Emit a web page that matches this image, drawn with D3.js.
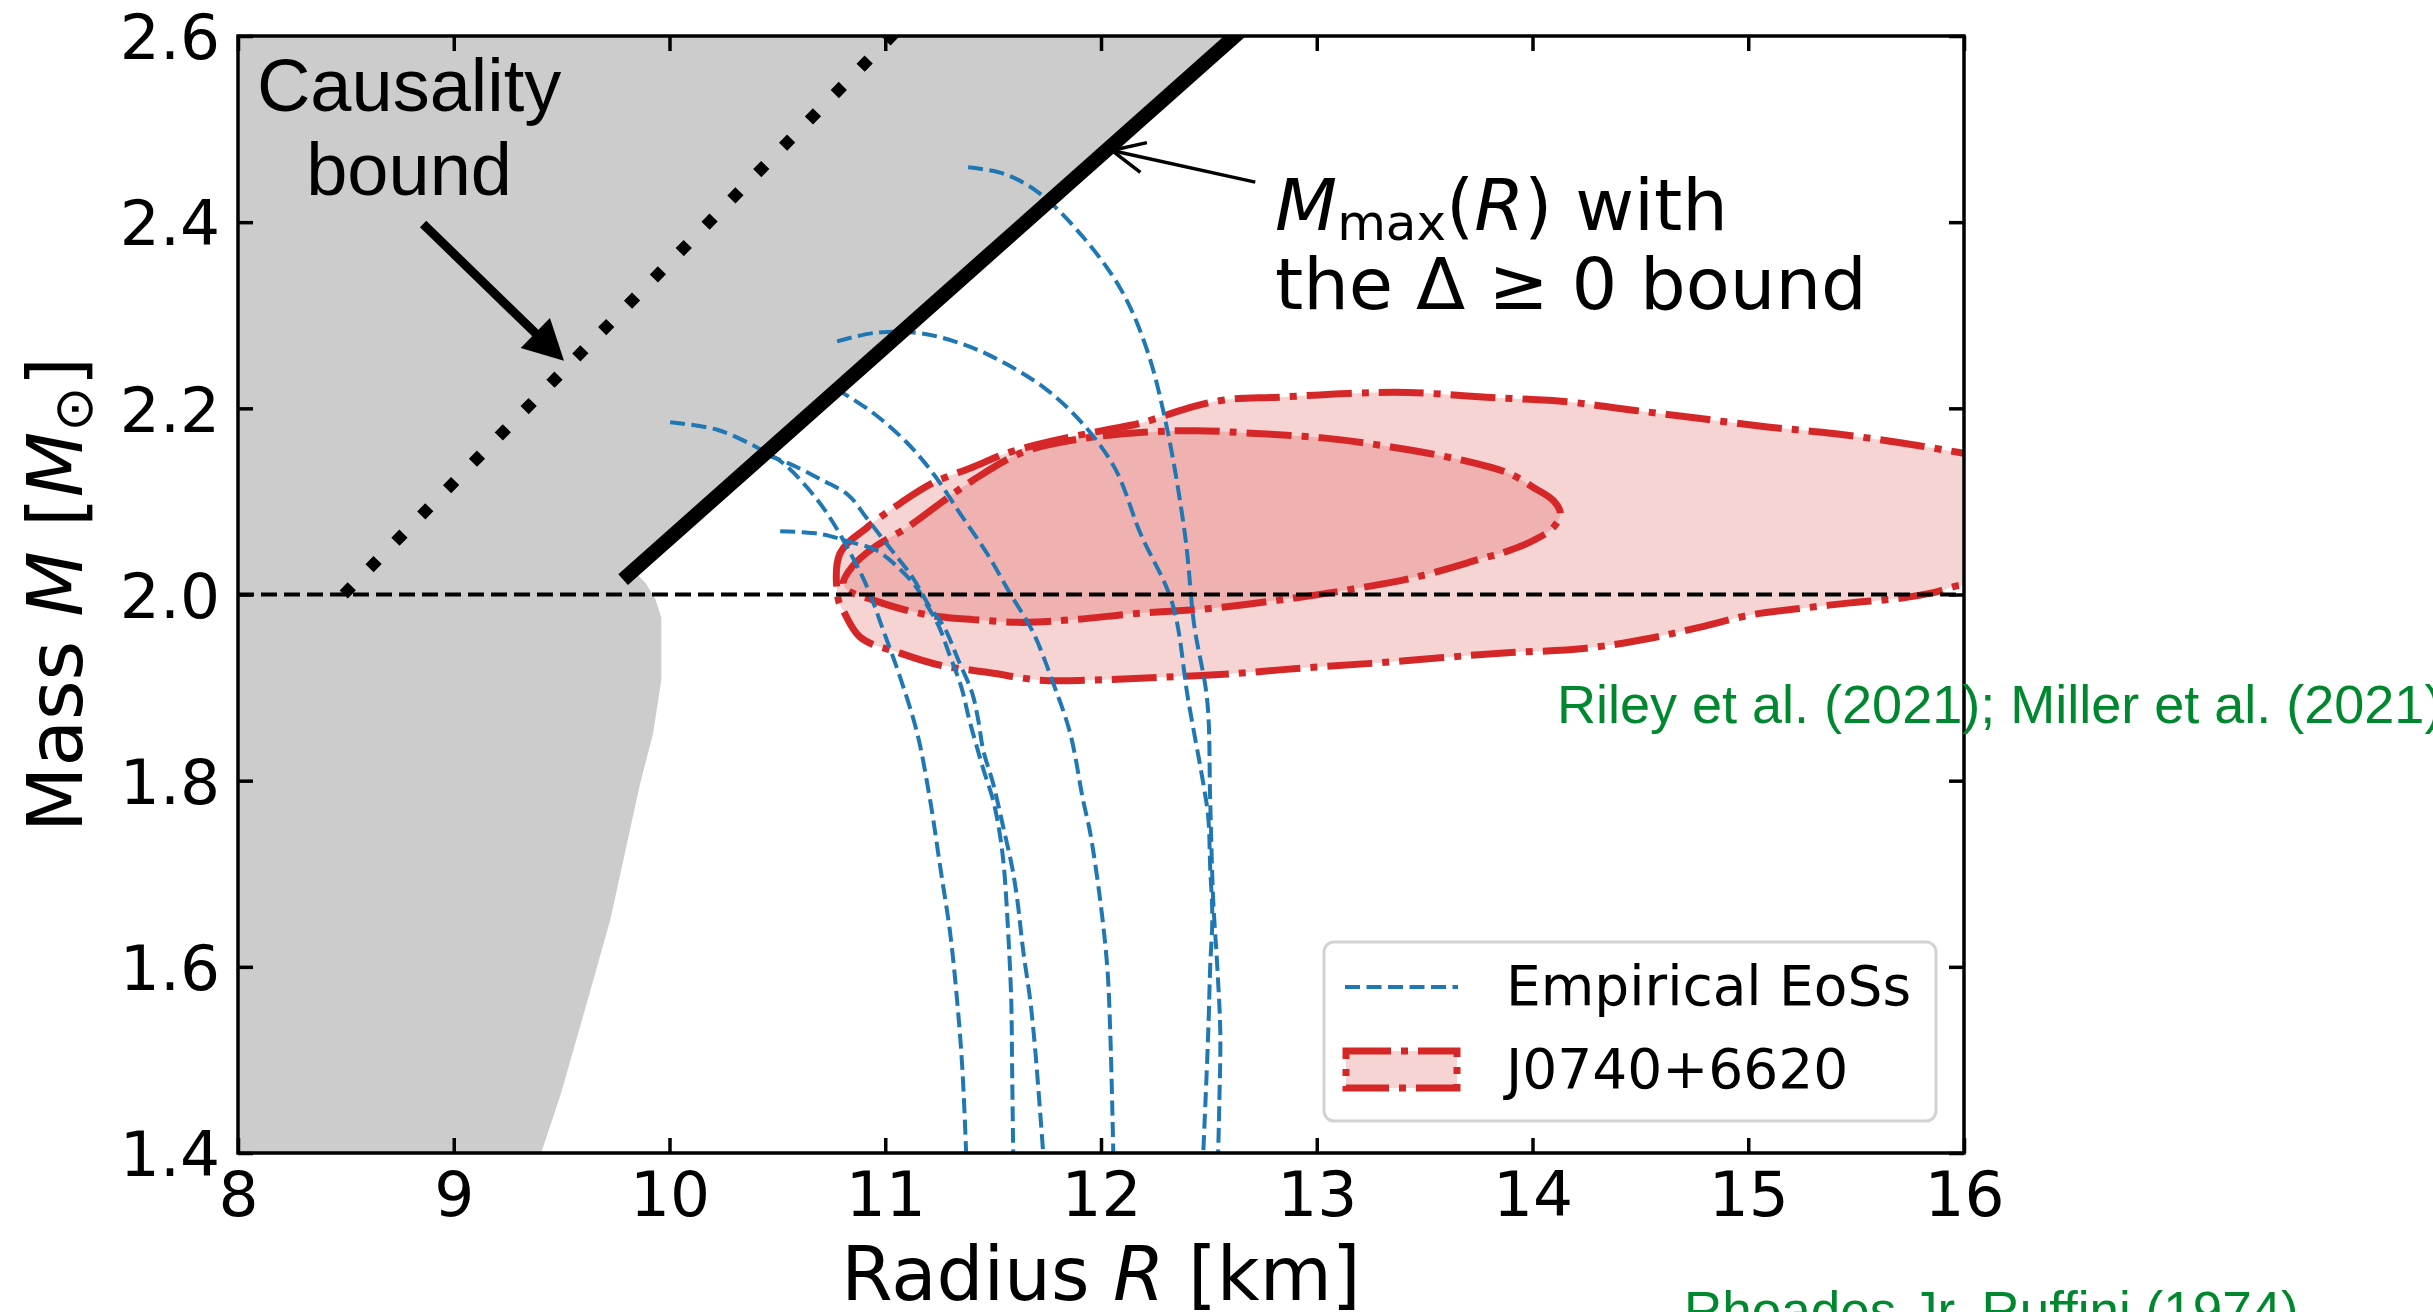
<!DOCTYPE html>
<html>
<head>
<meta charset="utf-8">
<script src="https://cdn.jsdelivr.net/npm/d3@7"></script>
<style>
  html, body { margin: 0; padding: 0; background: #fff; }
  svg { display: block; }
</style>
</head>
<body>
<svg id="chart" width="2433" height="1312"></svg>
<script>
// ---- axis ticks ----
const xTicks = [8, 9, 10, 11, 12, 13, 14, 15, 16];
const yTicks = [1.4, 1.6, 1.8, 2.0, 2.2, 2.4, 2.6];

// ---- mass-radius curves of empirical EoSs, [R (km), M (Msun)] ----
const eosA = [[11.384,2.459],[11.55,2.452],[11.709,2.432],[11.917,2.384],[12.094,2.327],[12.21,2.265],[12.302,2.183],[12.39,2.063],[12.432,1.967],[12.492,1.887],[12.506,1.779],[12.52,1.672],[12.539,1.6],[12.553,1.529],[12.548,1.45],[12.543,1.40]];
const eosB = [[10.777,2.272],[10.95,2.281],[11.148,2.281],[11.32,2.272],[11.5,2.255],[11.737,2.222],[11.917,2.183],[12.066,2.135],[12.182,2.066],[12.33,1.991],[12.404,1.887],[12.474,1.797],[12.497,1.761],[12.506,1.707],[12.516,1.653],[12.506,1.6],[12.497,1.529],[12.474,1.40]];
const eosC = [[10.003,2.185],[10.221,2.177],[10.406,2.158],[10.527,2.141],[10.638,2.115],[10.731,2.087],[10.823,2.051],[10.916,2.008],[10.99,1.962],[11.069,1.911],[11.148,1.851],[11.208,1.779],[11.255,1.707],[11.301,1.636],[11.333,1.564],[11.357,1.492],[11.375,1.40]];
const eosD = [[10.772,2.221],[10.944,2.195],[11.101,2.163],[11.222,2.13],[11.347,2.087],[11.472,2.044],[11.579,2.001],[11.686,1.959],[11.778,1.905],[11.857,1.851],[11.917,1.779],[11.95,1.744],[11.996,1.672],[12.029,1.6],[12.043,1.529],[12.057,1.40]];
const eosE = [[10.45,2.15],[10.56,2.14],[10.698,2.124],[10.828,2.107],[10.911,2.083],[11.018,2.051],[11.125,2.019],[11.208,1.986],[11.273,1.965],[11.338,1.93],[11.403,1.894],[11.431,1.865],[11.454,1.833],[11.5,1.797],[11.547,1.75],[11.588,1.707],[11.612,1.672],[11.639,1.618],[11.672,1.564],[11.695,1.511],[11.732,1.40]];
const eosF = [[10.513,2.068],[10.666,2.066],[10.74,2.063],[10.828,2.057],[10.953,2.048],[11.06,2.029],[11.143,2.008],[11.2,1.986],[11.25,1.965],[11.295,1.937],[11.352,1.901],[11.39,1.865],[11.42,1.84],[11.455,1.812],[11.5,1.779],[11.53,1.744],[11.55,1.707],[11.57,1.636],[11.584,1.564],[11.588,1.492],[11.593,1.40]];
const eosCurves = [eosA, eosB, eosC, eosD, eosE, eosF];

// ---- J0740+6620 credible regions ----
const j0740Outer = [[10.782,1.995],[10.79,2.044],[10.916,2.072],[11.069,2.098],[11.222,2.12],[11.408,2.137],[11.565,2.152],[11.797,2.166],[12.029,2.177],[12.182,2.184],[12.4,2.2],[12.571,2.209],[12.826,2.212],[13.146,2.216],[13.424,2.217],[13.786,2.212],[14.161,2.207],[14.467,2.198],[14.778,2.189],[15.089,2.18],[15.395,2.173],[15.705,2.163],[15.993,2.152],[16.1,2.148],[16.15,2.08],[16.1,2.006],[15.993,2.01],[15.858,2.002],[15.705,1.996],[15.473,1.991],[15.242,1.985],[15.01,1.978],[14.778,1.965],[14.546,1.953],[14.236,1.942],[13.851,1.937],[13.573,1.932],[13.253,1.926],[12.933,1.921],[12.613,1.915],[12.182,1.91],[11.95,1.908],[11.718,1.908],[11.486,1.916],[11.255,1.924],[11.069,1.937],[10.884,1.954],[10.805,1.983]];
const j0740Inner = [[10.805,2.012],[10.847,2.03],[10.944,2.05],[11.101,2.072],[11.255,2.098],[11.408,2.123],[11.639,2.153],[11.871,2.166],[12.182,2.174],[12.441,2.176],[12.72,2.173],[13.039,2.168],[13.359,2.158],[13.679,2.144],[13.892,2.13],[14.004,2.115],[14.096,2.101],[14.129,2.087],[14.096,2.072],[14.004,2.058],[13.851,2.044],[13.786,2.04],[13.466,2.019],[13.146,2.005],[12.826,1.994],[12.506,1.985],[12.182,1.98],[11.871,1.973],[11.639,1.97],[11.408,1.973],[11.255,1.976],[11.101,1.983],[10.944,1.994],[10.823,2.005]];

// ---- bounds ----
const causalityRegion = [[8,2.6],[12.65,2.6],[9.785,2.016],[9.84,2.024],[9.89,2.012],[9.935,1.995],[9.962,1.975],[9.962,1.908],[9.924,1.851],[9.864,1.797],[9.725,1.65],[9.618,1.562],[9.497,1.464],[9.405,1.40],[8,1.40]];
const deltaBoundLine = [[9.785,2.016],[12.67,2.61]];
const causalityLine = [[8.49,2.0],[11.06,2.607]];
const twoSolarMass = [[8,2.0],[16,2.0]];

// ---- layout ----
const W = 2433, H = 1312;
const plot = { left: 238, right: 1964, top: 36, bottom: 1153 };
const RED = "#d62728", BLUE = "#1f77b4", GREEN = "#00882e";
const SANS = "'DejaVu Sans', sans-serif";
const ARIAL = "'Liberation Sans', Arial, sans-serif";

const x = d3.scaleLinear().domain([8, 16]).range([plot.left, plot.right]);
const y = d3.scaleLinear().domain([1.4, 2.6]).range([plot.bottom, plot.top]);

const svg = d3.select("#chart");
svg.append("rect").attr("width", W).attr("height", H).attr("fill", "#fff");

svg.append("defs").append("clipPath").attr("id", "plotClip")
  .append("rect")
  .attr("x", plot.left).attr("y", plot.top)
  .attr("width", plot.right - plot.left).attr("height", plot.bottom - plot.top);

const g = svg.append("g").attr("clip-path", "url(#plotClip)");

const straight = d3.line().x(d => x(d[0])).y(d => y(d[1]));
const polygon = d3.line().x(d => x(d[0])).y(d => y(d[1])).curve(d3.curveLinearClosed);
const smooth = d3.line().x(d => x(d[0])).y(d => y(d[1])).curve(d3.curveCatmullRom.alpha(0.5));
const smoothClosed = d3.line().x(d => x(d[0])).y(d => y(d[1])).curve(d3.curveCatmullRomClosed.alpha(0.5));

// excluded region (causality)
g.append("path").attr("d", polygon(causalityRegion)).attr("fill", "#cccccc");

// J0740+6620 regions
[j0740Outer, j0740Inner].forEach(c => {
  g.append("path").attr("d", smoothClosed(c))
    .attr("fill", RED).attr("fill-opacity", 0.2).attr("stroke", "none");
});
[j0740Outer, j0740Inner].forEach(c => {
  g.append("path").attr("d", smoothClosed(c))
    .attr("fill", "none").attr("stroke", RED).attr("stroke-width", 7)
    .attr("stroke-dasharray", "45,10,7,10");
});

// empirical EoS curves
eosCurves.forEach(c => {
  g.append("path").attr("d", smooth(c))
    .attr("fill", "none").attr("stroke", BLUE).attr("stroke-width", 4)
    .attr("stroke-dasharray", "15,6.5");
});

// M = 2 Msun reference
g.append("path").attr("d", straight(twoSolarMass))
  .attr("fill", "none").attr("stroke", "#000").attr("stroke-width", 4)
  .attr("stroke-dasharray", "16,7");

// Mmax(R) with the Delta >= 0 bound
g.append("path").attr("d", straight(deltaBoundLine))
  .attr("fill", "none").attr("stroke", "#000").attr("stroke-width", 14.5)
  .attr("stroke-linecap", "butt");

// causality limit (dotted)
g.append("path").attr("d", straight(causalityLine))
  .attr("fill", "none").attr("stroke", "#000").attr("stroke-width", 11.5)
  .attr("stroke-linecap", "butt").attr("stroke-dasharray", "11.5,25.4");

// ---- axes ----
svg.append("rect")
  .attr("x", plot.left).attr("y", plot.top)
  .attr("width", plot.right - plot.left).attr("height", plot.bottom - plot.top)
  .attr("fill", "none").attr("stroke", "#000").attr("stroke-width", 3.5);

function styleAxis(sel) {
  sel.select(".domain").remove();
  sel.attr("font-family", SANS).attr("font-size", 63);
  sel.selectAll(".tick line").attr("stroke", "#000").attr("stroke-width", 3.5);
  sel.selectAll(".tick text").attr("fill", "#000");
}

const gx = svg.append("g").attr("transform", `translate(0,${plot.bottom})`)
  .call(d3.axisBottom(x).tickValues(xTicks).tickFormat(d3.format("d"))
    .tickSizeInner(-15).tickSizeOuter(0).tickPadding(18));
styleAxis(gx);

const gy = svg.append("g").attr("transform", `translate(${plot.left},0)`)
  .call(d3.axisLeft(y).tickValues(yTicks).tickFormat(d3.format(".1f"))
    .tickSizeInner(-15).tickSizeOuter(0).tickPadding(18));
styleAxis(gy);
gy.selectAll(".tick text").attr("dy", "0.36em");

const gxt = svg.append("g").attr("transform", `translate(0,${plot.top})`)
  .call(d3.axisTop(x).tickValues(xTicks).tickFormat("").tickSizeInner(-15).tickSizeOuter(0));
styleAxis(gxt);

const gyr = svg.append("g").attr("transform", `translate(${plot.right},0)`)
  .call(d3.axisRight(y).tickValues(yTicks).tickFormat("").tickSizeInner(-15).tickSizeOuter(0));
styleAxis(gyr);

// axis titles
const xl = svg.append("text")
  .attr("x", (plot.left + plot.right) / 2).attr("y", 1300)
  .attr("text-anchor", "middle").attr("font-family", SANS).attr("font-size", 74).attr("fill", "#000");
xl.append("tspan").text("Radius ");
xl.append("tspan").attr("font-style", "italic").text("R");
xl.append("tspan").text(" [km]");

const yl = svg.append("text")
  .attr("transform", `translate(82,${(plot.top + plot.bottom) / 2}) rotate(-90)`)
  .attr("text-anchor", "middle").attr("font-family", SANS).attr("font-size", 76).attr("fill", "#000");
yl.append("tspan").text("Mass ");
yl.append("tspan").attr("font-style", "italic").text("M");
yl.append("tspan").text(" [");
yl.append("tspan").attr("font-style", "italic").text("M");
yl.append("tspan").attr("font-size", 54).attr("dy", 10).text("\u2299");
yl.append("tspan").attr("dy", -10).text("]");

// ---- annotations ----
const causalityText = svg.append("text")
  .attr("text-anchor", "middle").attr("font-family", ARIAL).attr("font-size", 74).attr("fill", "#000");
causalityText.append("tspan").attr("x", x(8.793)).attr("y", y(2.519)).text("Causality");
causalityText.append("tspan").attr("x", x(8.793)).attr("y", y(2.429)).text("bound");

// filled arrow to the causality line
(function () {
  const p0 = [x(8.858), y(2.398)], p1 = [x(9.511), y(2.251)];
  const dx = p1[0] - p0[0], dy = p1[1] - p0[1], L = Math.hypot(dx, dy);
  const ux = dx / L, uy = dy / L, nx = -uy, ny = ux;
  const hl = 40, hw = 21;
  const b = [p1[0] - hl * ux, p1[1] - hl * uy];
  svg.append("line").attr("x1", p0[0]).attr("y1", p0[1]).attr("x2", b[0] + 2 * ux).attr("y2", b[1] + 2 * uy)
    .attr("stroke", "#000").attr("stroke-width", 9);
  svg.append("path")
    .attr("d", `M${p1[0]},${p1[1]}L${b[0] + hw * nx},${b[1] + hw * ny}L${b[0] - hw * nx},${b[1] - hw * ny}Z`)
    .attr("fill", "#000");
})();

// open arrow to the Mmax(R) line
(function () {
  const p0 = [x(12.715), y(2.443)], p1 = [x(12.05), y(2.477)];
  const ang = Math.atan2(p0[1] - p1[1], p0[0] - p1[0]);
  const hl = 36, ha = 25 * Math.PI / 180;
  svg.append("line").attr("x1", p0[0]).attr("y1", p0[1]).attr("x2", p1[0]).attr("y2", p1[1])
    .attr("stroke", "#000").attr("stroke-width", 3.5);
  const a1 = [p1[0] + hl * Math.cos(ang + ha), p1[1] + hl * Math.sin(ang + ha)];
  const a2 = [p1[0] + hl * Math.cos(ang - ha), p1[1] + hl * Math.sin(ang - ha)];
  svg.append("path").attr("d", `M${a1[0]},${a1[1]}L${p1[0]},${p1[1]}L${a2[0]},${a2[1]}`)
    .attr("fill", "none").attr("stroke", "#000").attr("stroke-width", 3.5)
    .attr("stroke-linejoin", "miter");
})();

const mt = svg.append("text").attr("font-family", SANS).attr("font-size", 72).attr("fill", "#000");
const l1 = mt.append("tspan").attr("x", 1275).attr("y", 230);
l1.append("tspan").attr("font-style", "italic").text("M");
l1.append("tspan").attr("font-size", 50).attr("dy", 10).text("max");
l1.append("tspan").attr("dy", -10).text("(");
l1.append("tspan").attr("font-style", "italic").text("R");
l1.append("tspan").text(") with");
mt.append("tspan").attr("x", 1275).attr("y", 309).text("the \u0394 \u2265 0 bound");

// ---- legend ----
const lg = svg.append("g");
lg.append("rect").attr("x", 1324).attr("y", 942).attr("width", 612).attr("height", 179)
  .attr("rx", 10).attr("fill", "#fff").attr("fill-opacity", 0.8)
  .attr("stroke", "#d3d3d3").attr("stroke-width", 3);
lg.append("line").attr("x1", 1345).attr("x2", 1458).attr("y1", 987).attr("y2", 987)
  .attr("stroke", BLUE).attr("stroke-width", 4).attr("stroke-dasharray", "15,6.5");
lg.append("rect").attr("x", 1346).attr("y", 1051).attr("width", 111).attr("height", 37)
  .attr("fill", RED).attr("fill-opacity", 0.2)
  .attr("stroke", RED).attr("stroke-width", 7).attr("stroke-dasharray", "45,10,7,10");
lg.append("text").attr("x", 1506).attr("y", 1005).attr("font-family", SANS).attr("font-size", 55)
  .attr("fill", "#000").text("Empirical EoSs");
lg.append("text").attr("x", 1506).attr("y", 1088).attr("font-family", SANS).attr("font-size", 55)
  .attr("fill", "#000").text("J0740+6620");

// ---- references ----
svg.append("text").attr("x", 1557).attr("y", 723).attr("font-family", ARIAL).attr("font-size", 54)
  .attr("fill", GREEN).text("Riley et al. (2021); Miller et al. (2021)");
svg.append("text").attr("x", 1684).attr("y", 1329).attr("font-family", ARIAL).attr("font-size", 53)
  .attr("fill", GREEN).text("Rhoades Jr. Ruffini (1974)");
</script>
</body>
</html>
